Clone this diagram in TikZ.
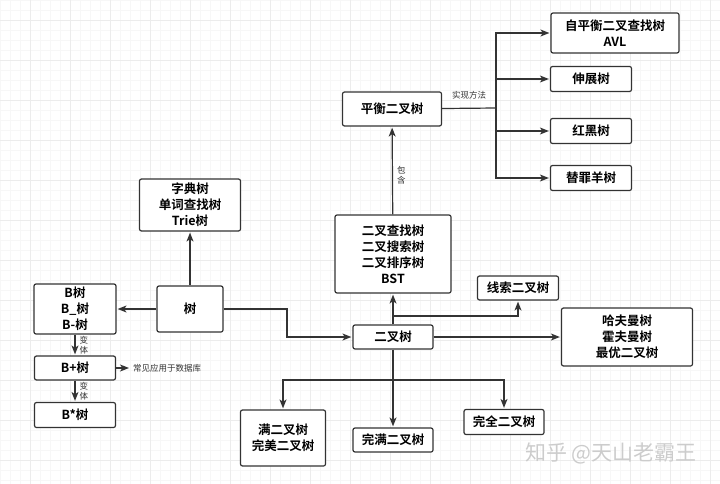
\documentclass[tikz,border=0pt]{standalone}
\usepackage{fontspec}
\setmainfont{Noto Sans CJK SC}[BoldFont={Noto Sans CJK SC Bold}]
\usepackage{xcolor}
\usetikzlibrary{arrows.meta}
\definecolor{lineGray}{RGB}{51,51,51}
\definecolor{gridMinor}{RGB}{247,247,247}
\definecolor{gridMajor}{RGB}{236,236,236}

\begin{document}
\begin{tikzpicture}[x=1pt,y=-1pt,
    box/.style={draw=lineGray, line width=1.2pt, rounded corners=2pt, fill=white, align=center, inner sep=0pt, font=\fontsize{12.5}{16}\selectfont\bfseries},
    arr/.style={draw=lineGray, line width=1.2pt, -{Stealth[length=9pt,width=7pt,inset=2.5pt]}, shorten >=1pt},
    lbl/.style={font=\fontsize{8.5}{10}\selectfont, text=lineGray, inner sep=1pt}]
                \useasboundingbox (0,0) rectangle (720,484);
                \fill[white] (0,0) rectangle (720,484);
                % canvas grid
                \foreach \gx in {0,10,...,720} \draw[gridMinor, line width=0.4pt] (\gx,0) -- (\gx,484);
                \foreach \gy in {0,10,...,480} \draw[gridMinor, line width=0.4pt] (0,\gy) -- (720,\gy);
                \foreach \gx in {30,70,...,710} \draw[gridMajor, line width=0.5pt] (\gx,0) -- (\gx,484);
                \foreach \gy in {20,60,...,460} \draw[gridMajor, line width=0.5pt] (0,\gy) -- (720,\gy);

                % left part
                \node[box, minimum width=66, minimum height=46] (tree) at (190,309) {树};
                \node[box, minimum width=101, minimum height=52] (trie) at (190,205) {字典树\\单词查找树\\Trie树};
                \node[box, minimum width=82, minimum height=50] (btree) at (75,309) {B树\\B\_树\\B-树};
                \node[box, minimum width=81, minimum height=24] (bplus) at (75,368) {B+树};
                \node[box, minimum width=81, minimum height=25] (bstar) at (75,415) {B*树};
                \node[lbl, anchor=west, inner sep=3pt] (dbnote) at (130,368) {常见应用于数据库};

                % binary trees
                \node[box, minimum width=80, minimum height=24] (bin) at (393,337) {二叉树};
                \node[box, minimum width=116, minimum height=78] (bst) at (393,254) {二叉查找树\\二叉搜索树\\二叉排序树\\BST};
                \node[box, minimum width=81, minimum height=24] (thread) at (518,288) {线索二叉树};
                \node[box, minimum width=131, minimum height=58] (huff) at (627,337) {哈夫曼树\\霍夫曼树\\最优二叉树};
                \node[box, minimum width=85, minimum height=56] (full) at (283,438) {满二叉树\\完美二叉树};
                \node[box, minimum width=80, minimum height=24] (strict) at (393,440) {完满二叉树};
                \node[box, minimum width=80, minimum height=25] (complete) at (504,422) {完全二叉树};

                % balanced trees
                \node[box, minimum width=99, minimum height=34] (balance) at (392,109) {平衡二叉树};
                \node[box, minimum width=128, minimum height=40] (avl) at (615,33) {自平衡二叉查找树\\AVL};
                \node[box, minimum width=81, minimum height=25] (splay) at (591,79) {伸展树};
                \node[box, minimum width=81, minimum height=25] (redblack) at (591,131) {红黑树};
                \node[box, minimum width=81, minimum height=25] (scapegoat) at (591,178) {替罪羊树};

                \coordinate (bendA) at (287,309);
                \coordinate (bendB) at (287,337);
                \coordinate (binUp) at (393,316);
                \coordinate (binDown) at (393,380);
                \coordinate (split) at (496,108);

                \draw[arr] (tree) -- (trie);
                \draw[arr] (tree) -- (btree);
                \draw[arr] (btree) -- node[lbl, right, align=center, xshift=3pt] {变\\体} (bplus);
                \draw[arr] (bplus) -- node[lbl, right, align=center, xshift=3pt] {变\\体} (bstar);
                \draw[arr] (bplus) -- (dbnote);
                \draw[arr] (tree.east) -- (bendA) -- (bendB) -- (bin.west);

                \draw[arr] (bin) -- (bst);
                \draw[arr] (binUp) -| (thread);
                \draw[arr] (bin) -- (huff);
                \draw[arr] (bin) -- (strict);
                \draw[arr] (binDown) -| (full);
                \draw[arr] (binDown) -| (complete);

                \draw[arr] (bst) -- node[lbl, right, align=center, pos=0.45, xshift=3pt] {包\\含} (balance);
                \draw[draw=lineGray, line width=1.2pt] (balance) -- node[lbl, above=7pt] {实现方法} (split);
                \draw[arr] (split) |- (avl);
                \draw[arr] (split) |- (splay);
                \draw[arr] (split) |- (redblack);
                \draw[arr] (split) |- (scapegoat);

                \node[font=\fontsize{21}{21}\selectfont, text=gray!40] (mark) at (611,453) {知乎 @天山老霸王};
            \end{tikzpicture}
\end{document}
